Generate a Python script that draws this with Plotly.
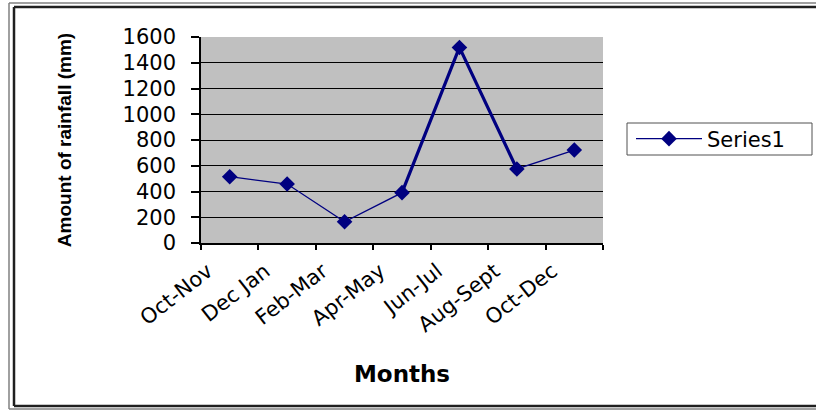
import plotly.graph_objects as go

categories = ["Oct-Nov", "Dec Jan", "Feb-Mar", "Apr-May", "Jun-Jul", "Aug-Sept", "Oct-Dec"]
rainfall = [515, 458, 165, 391, 1519, 575, 722]
y_ticks = [0, 200, 400, 600, 800, 1000, 1200, 1400, 1600]

W, H = 816, 413
PL, PR, PT, PB = 201, 603, 37, 243          # plot area in screen px
L, T = PL, PT
R, B = W - PR, H - PB
pw, ph = W - L - R, H - T - B


def px(x):
    return (x - L) / pw


def py(y):
    return (H - B - y) / ph


def hline(x0, x1, y, color, width):
    return dict(type="line", xref="paper", yref="paper", x0=px(x0), x1=px(x1), y0=py(y), y1=py(y),
                line=dict(color=color, width=width), layer="below")


def vline(x, y0, y1, color, width):
    return dict(type="line", xref="paper", yref="paper", x0=px(x), x1=px(x), y0=py(y0), y1=py(y1),
                line=dict(color=color, width=width), layer="below")


navy = "#000080"
fig = go.Figure()
# thicker middle segment as in the reference
fig.add_trace(go.Scatter(x=categories[3:6], y=rainfall[3:6], mode="lines",
                         line=dict(color=navy, width=3.2), showlegend=False,
                         hoverinfo="skip"))
fig.add_trace(go.Scatter(x=categories, y=rainfall, mode="lines+markers", name="Series1",
                         line=dict(color=navy, width=1.3),
                         marker=dict(symbol="diamond", size=12, color=navy)))

font = "DejaVu Sans, Arial, sans-serif"
arial = "Liberation Sans, Arial, sans-serif"
fig.update_layout(
    width=W, height=H,
    margin=dict(l=L, r=R, t=T, b=B, autoexpand=False),
    paper_bgcolor="white", plot_bgcolor="#C0C0C0",
    font=dict(family=font, color="black"),
    showlegend=True,
    legend=dict(x=px(631), xanchor="left", y=py(139), yanchor="middle",
                bgcolor="rgba(0,0,0,0)", borderwidth=0,
                font=dict(size=21, family=font), itemwidth=66),
    xaxis=dict(type="category", categoryorder="array", categoryarray=categories,
               range=[-0.5, 6.5], tickson="boundaries",
               showline=True, linecolor="black", linewidth=1.5,
               ticks="outside", ticklen=5, tickcolor="black", tickwidth=1.5,
               showgrid=False, tickangle=-38, automargin=False,
               ticklabelshift=-22, ticklabelstandoff=6,
               tickfont=dict(size=21, family=font),
               title=dict(text="<b>Months</b>", font=dict(size=23, family=font), standoff=30)),
    yaxis=dict(range=[0, 1600], tickvals=y_ticks, showline=True, linecolor="black", linewidth=1.5,
               ticks="outside", ticklen=8, tickcolor="black", tickwidth=1.5,
               showgrid=True, gridcolor="black", gridwidth=1, zeroline=False,
               automargin=False, ticklabelstandoff=11,
               tickfont=dict(size=21, family=font),
               title=dict(text="<b>Amount of rainfall (mm)</b>", font=dict(size=19, family=arial), standoff=46)),
    shapes=[
        # outer thin frame (runs off the right edge)
        hline(9, 830, 3, "#808080", 1.5),
        vline(9, 3, 409, "#808080", 1.5),
        hline(9, 830, 409, "#808080", 1.5),
        # inner heavy frame
        hline(14, 830, 7, "#202020", 2.5),
        vline(14, 7, 406, "#202020", 2.5),
        hline(14, 830, 406, "#202020", 2.5),
        # legend box
        dict(type="rect", xref="paper", yref="paper", x0=px(627), x1=px(812), y0=py(123), y1=py(155),
             line=dict(color="#505050", width=1), fillcolor="white", layer="below"),
    ],
)

fig.write_html("out.html", config={"displayModeBar": False},
               post_script=("document.documentElement.style.overflow='hidden';"
                            "document.body.style.overflow='hidden';"
                            "document.body.style.margin='0';"))
